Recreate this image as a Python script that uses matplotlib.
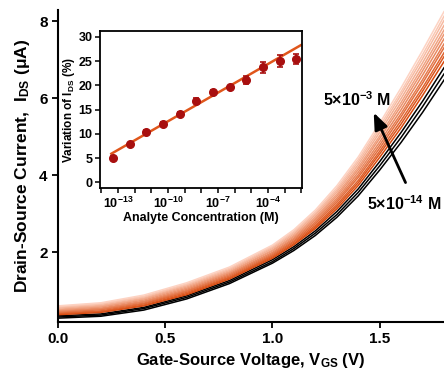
import numpy as np
import matplotlib
matplotlib.use("Agg")
import matplotlib.pyplot as plt
from matplotlib.colors import LinearSegmentedColormap
from matplotlib.ticker import FixedLocator, NullLocator, FuncFormatter

plt.rcParams["font.family"] = ["Liberation Sans", "DejaVu Sans"]
plt.rcParams["font.weight"] = "bold"
plt.rcParams["axes.labelweight"] = "bold"
plt.rcParams["mathtext.fontset"] = "custom"
plt.rcParams["mathtext.rm"] = "Liberation Sans:bold"
plt.rcParams["mathtext.it"] = "Liberation Sans:bold"
plt.rcParams["mathtext.bf"] = "Liberation Sans:bold"

# ---------------------------------------------------------
# data
# ---------------------------------------------------------
vgs = [0.0, 0.2, 0.4, 0.6, 0.8, 1.0, 1.1, 1.2, 1.3, 1.4, 1.5, 1.6, 1.7, 1.8]

# reference (black) curves, I_DS in uA
black_curves = [
    [0.28, 0.33, 0.49, 0.78, 1.18, 1.71, 2.04, 2.43, 2.90, 3.46, 4.13, 4.85, 5.63, 6.47],
    [0.31, 0.36, 0.53, 0.82, 1.22, 1.75, 2.09, 2.49, 2.97, 3.55, 4.24, 4.98, 5.78, 6.63],
    [0.34, 0.39, 0.56, 0.86, 1.26, 1.80, 2.14, 2.55, 3.05, 3.64, 4.35, 5.11, 5.92, 6.79],
]

# 5e-14 M ... 5e-3 M
orange_curves = [
    [0.37, 0.43, 0.60, 0.89, 1.30, 1.84, 2.19, 2.61, 3.12, 3.73, 4.46, 5.23, 6.07, 6.95],
    [0.39, 0.45, 0.62, 0.92, 1.33, 1.87, 2.22, 2.65, 3.18, 3.80, 4.55, 5.33, 6.18, 7.08],
    [0.41, 0.47, 0.65, 0.95, 1.35, 1.90, 2.26, 2.69, 3.23, 3.86, 4.62, 5.42, 6.27, 7.18],
    [0.43, 0.50, 0.67, 0.98, 1.38, 1.93, 2.29, 2.74, 3.29, 3.94, 4.70, 5.52, 6.39, 7.31],
    [0.45, 0.52, 0.70, 1.00, 1.41, 1.96, 2.33, 2.78, 3.34, 4.00, 4.78, 5.60, 6.48, 7.41],
    [0.47, 0.54, 0.72, 1.03, 1.44, 1.99, 2.36, 2.83, 3.39, 4.07, 4.86, 5.70, 6.60, 7.54],
    [0.49, 0.57, 0.75, 1.06, 1.47, 2.03, 2.40, 2.87, 3.45, 4.14, 4.95, 5.80, 6.71, 7.66],
    [0.51, 0.59, 0.78, 1.09, 1.49, 2.05, 2.43, 2.91, 3.50, 4.20, 5.02, 5.89, 6.81, 7.77],
    [0.54, 0.61, 0.80, 1.12, 1.52, 2.09, 2.47, 2.96, 3.56, 4.27, 5.11, 5.99, 6.92, 7.89],
    [0.56, 0.64, 0.83, 1.15, 1.55, 2.12, 2.51, 3.00, 3.61, 4.34, 5.19, 6.09, 7.03, 8.02],
    [0.58, 0.66, 0.85, 1.17, 1.58, 2.15, 2.54, 3.04, 3.66, 4.40, 5.27, 6.17, 7.13, 8.13],
    [0.60, 0.68, 0.88, 1.20, 1.61, 2.18, 2.58, 3.09, 3.72, 4.47, 5.35, 6.27, 7.24, 8.25],
]

# inset: variation of I_DS vs concentration
conc = [5e-14, 5e-13, 5e-12, 5e-11, 5e-10, 5e-9, 5e-8, 5e-7, 5e-6, 5e-5, 5e-4, 5e-3]
variation = [5.1, 7.8, 10.4, 12.1, 14.1, 16.8, 18.7, 19.6, 21.1, 23.7, 25.0, 25.5]
variation_err = [0.3, 0.3, 0.4, 0.3, 0.3, 0.5, 0.3, 0.3, 0.8, 1.2, 1.3, 1.0]
fit_conc = [4.0e-14, 9.5e-3]
fit_var = [5.9, 28.3]

# ---------------------------------------------------------
# main plot
# ---------------------------------------------------------
fig = plt.figure(figsize=(4.44, 3.74), dpi=100)
ax = fig.add_axes([0.1306, 0.139, 0.8694, 0.834])

for curve in black_curves:
    ax.plot(vgs, curve, color="black", linewidth=1.1)

cmap = LinearSegmentedColormap.from_list("or", ["#d8490c", "#fdd3c3"])
for k, curve in enumerate(orange_curves):
    ax.plot(vgs, curve, color=cmap(k / (len(orange_curves) - 1)), linewidth=1.1)

ax.set_xlim(0, 1.8)
ax.set_ylim(0.18, 8.29)
ax.set_xticks([0.0, 0.5, 1.0, 1.5])
ax.set_xticklabels(["0.0", "0.5", "1.0", "1.5"])
ax.set_yticks([2, 4, 6, 8])
ax.spines["top"].set_visible(False)
ax.spines["right"].set_visible(False)
for s in ["left", "bottom"]:
    ax.spines[s].set_linewidth(1.5)
ax.tick_params(direction="out", length=4, width=1.3, labelsize=11)

ax.set_xlabel("Gate-Source Voltage, V$_{GS}$ (V)", fontsize=12, labelpad=3)
ax.set_ylabel("Drain-Source Current,  I$_{DS}$ (μA)", fontsize=12.5, labelpad=5)

ax.annotate("", xy=(1.467, 5.69), xytext=(1.626, 3.74),
            arrowprops=dict(arrowstyle="-|>,head_length=1.0,head_width=0.4",
                            color="black", lw=2.0))
ax.text(1.238, 5.95, "5×10$^{-3}$ M", fontsize=11.5, va="center", ha="left")
ax.text(1.44, 3.27, "5×10$^{-14}$ M", fontsize=11.5, va="center", ha="left",
        clip_on=False)

# ---------------------------------------------------------
# inset
# ---------------------------------------------------------
ins = fig.add_axes([0.2252, 0.497, 0.455, 0.42])
ins.set_xscale("log")
ins.plot(fit_conc, fit_var, color="#e0561b", linewidth=1.8, zorder=2)
ins.errorbar(conc, variation, yerr=variation_err, fmt="o", color="#a80f0f",
             markersize=5.5, capsize=2.5, elinewidth=1.2, capthick=1.2, zorder=3)

ins.set_xlim(10 ** -14.08, 10 ** -1.96)
ins.set_ylim(-1.2, 31.2)
ins.set_yticks([0, 5, 10, 15, 20, 25, 30])
ins.xaxis.set_major_locator(FixedLocator([10.0 ** e for e in range(-14, -1)]))
ins.xaxis.set_minor_locator(NullLocator())
ins.xaxis.set_major_formatter(FuncFormatter(
    lambda v, p: "10$^{%d}$" % round(np.log10(v)) if round(np.log10(v)) % 3 == 2 else ""))
for s in ins.spines.values():
    s.set_linewidth(1.3)
ins.tick_params(direction="out", length=3.5, width=1.1, labelsize=9, pad=2)
ins.set_xlabel("Analyte Concentration (M)", fontsize=9, labelpad=1)
ins.set_ylabel("Variation of I$_{DS}$ (%)", fontsize=8.5, labelpad=1)

fig.savefig("out.png", dpi=100)
